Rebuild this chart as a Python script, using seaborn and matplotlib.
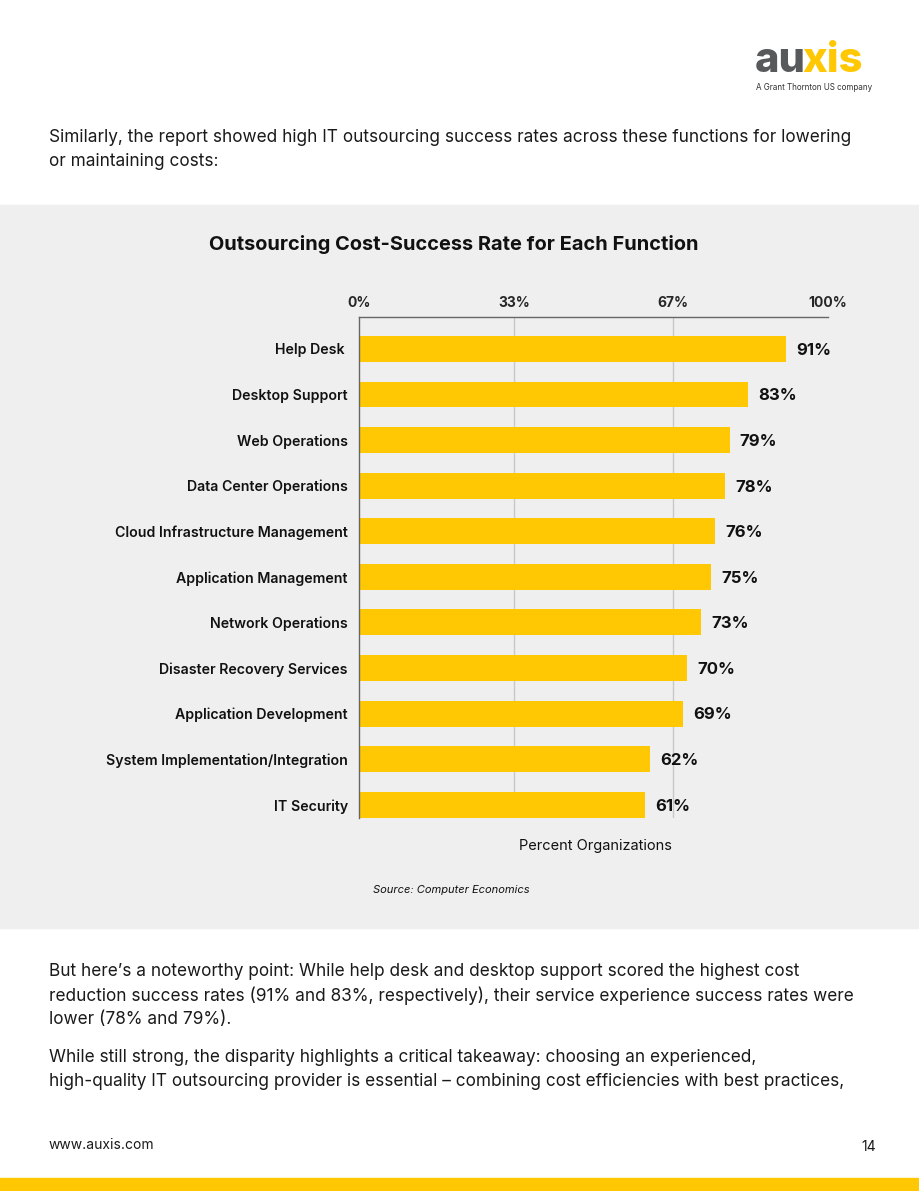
import matplotlib
matplotlib.use("Agg")
import matplotlib.pyplot as plt
import seaborn as sns
import pandas as pd
from matplotlib.patches import Rectangle

functions = [
    "Help Desk ",
    "Desktop Support",
    "Web Operations",
    "Data Center Operations",
    "Cloud Infrastructure Management",
    "Application Management",
    "Network Operations",
    "Disaster Recovery Services",
    "Application Development",
    "System Implementation/Integration",
    "IT Security",
]
success_rate = [91, 83, 79, 78, 76, 75, 73, 70, 69, 62, 61]
tick_values = [0, 33, 67, 100]
tick_labels = ["0%", "33%", "67%", "100%"]

df = pd.DataFrame({"function": functions, "rate": success_rate})

YELLOW = "#ffc803"
GREY_BG = "#efefef"
FONT = "Inter"

sns.set_style("white")
plt.rcParams["font.family"] = [FONT, "DejaVu Sans"]

W, H = 920, 1191
fig = plt.figure(figsize=(W / 100, H / 100), dpi=100)
fig.patch.set_facecolor("white")

# grey panel behind the chart
fig.add_artist(Rectangle((0, 1 - 928 / H), 1, (928 - 205) / H,
                         transform=fig.transFigure, color=GREY_BG, zorder=0))
# yellow footer band
fig.add_artist(Rectangle((0, 0), 1, 13 / H, transform=fig.transFigure,
                         color=YELLOW, zorder=0))

def px(x, y):
    return x / W, 1 - y / H

# logo
fig.text(*px(755, 61), "au", fontsize=30, fontweight="heavy", color="#58595b",
         ha="left", va="center")
fig.text(*px(802, 61), "xis", fontsize=30, fontweight="heavy", color=YELLOW,
         ha="left", va="center")
fig.text(*px(756, 87), "A Grant Thornton US company", fontsize=5.8,
         color="#333333", ha="left", va="center")

body = "#1a1a1a"
fig.text(*px(49, 138), "Similarly, the report showed high IT outsourcing success rates across these functions for lowering",
         fontsize=12.4, color=body, va="center")
fig.text(*px(49, 161), "or maintaining costs:", fontsize=12.4, color=body, va="center")

fig.text(*px(454, 245), "Outsourcing Cost-Success Rate for Each Function",
         fontsize=14.4, fontweight="bold", color="#111111", ha="center", va="center")

# chart axes
left, right, top, bottom = 359, 828, 317, 818
ax = fig.add_axes([left / W, 1 - bottom / H, (right - left) / W, (bottom - top) / H])
ax.set_facecolor("none")
sns.barplot(data=df, x="rate", y="function", orient="h", color=YELLOW,
            width=0.57, saturation=1, linewidth=0, ax=ax, zorder=3)
ax.set_xlim(0, 100)
ax.set_ylim(10.29, -0.70)
ax.set_xticks(tick_values)
ax.set_xticklabels(tick_labels, fontsize=10, fontweight="bold")
ax.xaxis.tick_top()
ax.tick_params(axis="x", length=0, pad=5)
ax.tick_params(axis="y", length=0, pad=8)
for lbl in ax.get_yticklabels():
    lbl.set_fontsize(10.2)
    lbl.set_fontweight("semibold")
    lbl.set_color("#111111")
for x in (33, 67):
    ax.axvline(x, color="#c8c8c8", lw=1, zorder=1)
for side in ("right", "bottom"):
    ax.spines[side].set_visible(False)
for side in ("left", "top"):
    ax.spines[side].set_color("#666666")
    ax.spines[side].set_linewidth(1)
    ax.spines[side].set_zorder(4)
ax.set_ylabel("")
ax.set_xlabel("")

for i, v in enumerate(success_rate):
    ax.text(v + 2.2, i + 0.03, f"{v}%", fontsize=12, fontweight="bold",
            color="#111111", va="center", ha="left")

fig.text(*px(595, 846), "Percent Organizations", fontsize=10.5,
         color="#111111", ha="center", va="center")
fig.text(*px(373, 890), "Source: Computer Economics", fontsize=8,
         style="italic", color="#111111", ha="left", va="center")

paras = [
    (972, "But here’s a noteworthy point: While help desk and desktop support scored the highest cost"),
    (996, "reduction success rates (91% and 83%, respectively), their service experience success rates were"),
    (1020, "lower (78% and 79%)."),
    (1058, "While still strong, the disparity highlights a critical takeaway: choosing an experienced,"),
    (1081, "high-quality IT outsourcing provider is essential – combining cost efficiencies with best practices,"),
]
for y, t in paras:
    fig.text(*px(49, y), t, fontsize=12.4, color=body, va="center")

fig.text(*px(49, 1145), "www.auxis.com", fontsize=10, color=body, va="center")
fig.text(*px(876, 1147), "14", fontsize=10, color=body, va="center", ha="right")

fig.savefig("out.png", dpi=100, facecolor=fig.get_facecolor())
